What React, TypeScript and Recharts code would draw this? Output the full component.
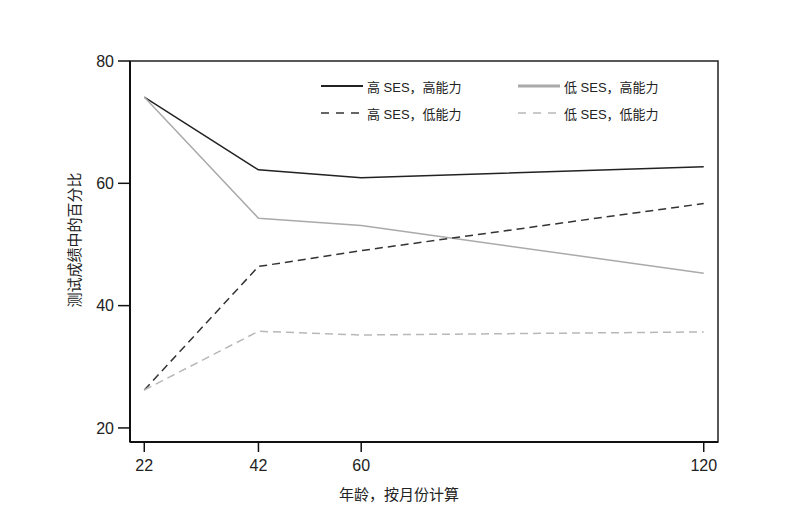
import { LineChart, Line, XAxis, YAxis, ReferenceArea, Legend } from 'recharts';

const ages = [22, 42, 60, 120];
const ageTicks = [22, 42, 60, 120];
const scoreTicks = [20, 40, 60, 80];

const highSesHighAbility = [74.1, 62.2, 60.9, 62.7];
const lowSesHighAbility = [74.1, 54.3, 53.1, 45.3];
const highSesLowAbility = [26.2, 46.4, 49.0, 56.7];
const lowSesLowAbility = [26.2, 35.8, 35.2, 35.7];

const seriesNames = ['高 SES，高能力', '低 SES，高能力', '高 SES，低能力', '低 SES，低能力'];

const data = ages.map((age, i) => ({
  age,
  hh: highSesHighAbility[i],
  lh: lowSesHighAbility[i],
  hl: highSesLowAbility[i],
  ll: lowSesLowAbility[i],
}));

const series = [
  { key: 'hh', name: seriesNames[0], stroke: '#222', width: 1.5, dash: undefined, legendWidth: 1.8 },
  { key: 'lh', name: seriesNames[1], stroke: '#aaa', width: 1.5, dash: undefined, legendWidth: 3 },
  { key: 'hl', name: seriesNames[2], stroke: '#333', width: 1.5, dash: '8 5', legendWidth: 1.5 },
  { key: 'll', name: seriesNames[3], stroke: '#b8b8b8', width: 1.5, dash: '8 5', legendWidth: 1.5 },
];

const font = '"Liberation Sans", "Noto Sans CJK SC", Arial, sans-serif';

function LegendBox() {
  return (
    <div style={{ display: 'grid', gridTemplateColumns: '197px 180px', rowGap: 7, fontFamily: font }}>
      {series.map((s) => (
        <div key={s.key} style={{ display: 'flex', alignItems: 'center', height: 20 }}>
          <svg width={42} height={10} style={{ marginRight: 4 }}>
            <line x1={0} y1={5} x2={42} y2={5} stroke={s.stroke} strokeWidth={s.legendWidth}
              strokeDasharray={s.dash ? '8 7' : undefined} />
          </svg>
          <span style={{ fontSize: 13, color: '#222' }}>{s.name}</span>
        </div>
      ))}
    </div>
  );
}

export default function App() {
  return (
    <div style={{ position: 'absolute', left: 0, top: 0, width: 800, height: 530, background: '#fff', fontFamily: font }}>
      <LineChart width={800} height={530} data={data} margin={{ top: 61, right: 82, bottom: 0, left: 0 }}>
        <ReferenceArea x1={19.5} x2={122.5} y1={17.7} y2={80} fill="none" stroke="#222" strokeWidth={1.5} ifOverflow="visible" />
        <XAxis dataKey="age" type="number" domain={[19.5, 122.5]} ticks={ageTicks} allowDataOverflow
          height={88} tickSize={10} tickMargin={8}
          axisLine={{ stroke: '#111', strokeWidth: 2 }} tickLine={{ stroke: '#111', strokeWidth: 1.5 }}
          tick={{ fontSize: 16, fill: '#222', fontFamily: font }}
          label={{
            content: () => (
              <text x={399} y={500} textAnchor="middle" fontSize={15} fill="#222" fontFamily={font}>年龄，按月份计算</text>
            ),
          }} />
        <YAxis type="number" domain={[17.7, 80]} ticks={scoreTicks} allowDataOverflow
          width={130} tickSize={12} tickMargin={4}
          axisLine={{ stroke: '#111', strokeWidth: 2 }} tickLine={{ stroke: '#111', strokeWidth: 1.5 }}
          tick={{ fontSize: 16, fill: '#222', fontFamily: font }}
          label={{
            content: () => (
              <text x={80} y={240} transform="rotate(-90 80 240)" textAnchor="middle" fontSize={15} fill="#222" fontFamily={font}>测试成绩中的百分比</text>
            ),
          }} />
        <Legend verticalAlign="middle" align="center" layout="horizontal" content={() => <LegendBox />}
          wrapperStyle={{ top: 76, left: 321, width: 400, height: 60 }} />
        {series.map((s) => (
          <Line key={s.key} type="linear" dataKey={s.key} name={s.name} stroke={s.stroke} strokeWidth={s.width}
            strokeDasharray={s.dash} dot={false} activeDot={false} isAnimationActive={false} />
        ))}
      </LineChart>
    </div>
  );
}
